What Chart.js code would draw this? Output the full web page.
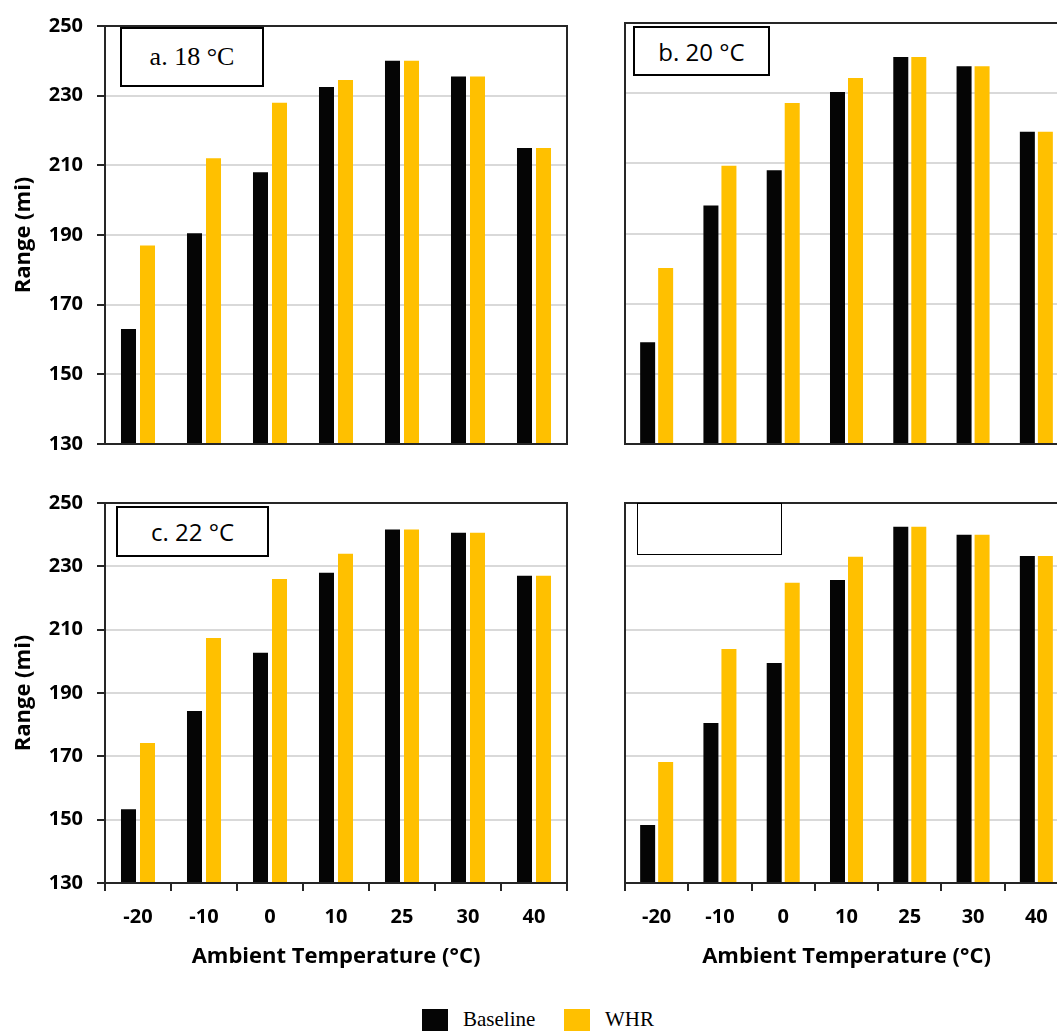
<!DOCTYPE html>
<html>
<head>
<meta charset="utf-8">
<script src="https://cdn.jsdelivr.net/npm/chart.js@4.4.1/dist/chart.umd.min.js"></script>
<style>
  html, body { margin: 0; padding: 0; background: #fff; overflow: hidden; width: 1057px; height: 1031px; }
  .panel { position: absolute; }
  .tag { position: absolute; box-sizing: border-box; border: 2px solid #000; background: #fff;
         display: flex; align-items: center; justify-content: center; color: #000; }
  .legend { position: absolute; font-family: 'Liberation Serif', serif; font-size: 21px; line-height: 21px; color: #000; }
  .swatch { position: absolute; width: 26px; height: 26px; }
</style>
</head>
<body>

<div class="panel" style="left:0;top:0"><canvas id="cA" width="580" height="470"></canvas></div>
<div class="panel" style="left:520px;top:0"><canvas id="cB" width="580" height="470"></canvas></div>
<div class="panel" style="left:0;top:470px"><canvas id="cC" width="580" height="520"></canvas></div>
<div class="panel" style="left:520px;top:470px"><canvas id="cD" width="580" height="520"></canvas></div>

<div class="tag" style="left:120px;top:27px;width:144px;height:60px;font-family:'Liberation Serif',serif;font-size:26px;">a. 18 °C</div>
<div class="tag" style="left:633px;top:26px;width:137px;height:50px;font-family:'Open Sans',sans-serif;font-size:24px;">b. 20 °C</div>
<div class="tag" style="left:116px;top:506px;width:153px;height:51px;font-family:'Open Sans',sans-serif;font-size:24px;">c. 22 °C</div>
<div class="tag" style="left:637px;top:503px;width:145px;height:52px;border-width:1px;"></div>

<div id="legend"></div>

<script>
// categories (ambient temperature, °C)
const categories = ['-20', '-10', '0', '10', '25', '30', '40'];

// range (mi)
const baseline18 = [163, 190.5, 208, 232.5, 240, 235.5, 215];
const whr18      = [187, 212, 228, 234.5, 240, 235.5, 215];

const baseline20 = [159, 198, 208, 230.3, 240.3, 237.7, 219];
const whr20      = [180.2, 209.3, 227.2, 234.3, 240.3, 237.7, 219];

const baseline22 = [153.3, 184.3, 202.7, 228, 241.6, 240.6, 227];
const whr22      = [174.2, 207.4, 226, 234, 241.6, 240.6, 227];

const baselineD = [148.3, 180.5, 199.5, 225.7, 242.5, 240, 233.3];
const whrD      = [168.2, 203.9, 224.8, 233, 242.5, 240, 233.3];

const seriesNames  = ['Baseline', 'WHR'];
const seriesColors = ['#050505', '#FFC000'];

const yMin = 130, yMax = 250, yStep = 20;

Chart.defaults.font.family = "'Open Sans', sans-serif";
Chart.defaults.color = '#000';

const axisColor = '#262626';

// box round the plot area
const frame = {
    id: 'frame',
    afterDatasetsDraw(chart) {
        const { ctx, chartArea: a } = chart;
        ctx.save();
        ctx.strokeStyle = axisColor;
        ctx.lineWidth = 2;
        ctx.strokeRect(a.left, a.top, a.right - a.left, a.bottom - a.top);
        ctx.restore();
    }
};

// left panels are narrower than the right ones (which run off the page)
function dibujarPanel(id, baseline, whr, showY, showX) {
    var padRight = showY ? 13 : 32;
    new Chart(document.getElementById(id), {
        type: 'bar',
        data: {
            labels: categories,
            datasets: [
                { label: seriesNames[0], data: baseline, backgroundColor: seriesColors[0] },
                { label: seriesNames[1], data: whr, backgroundColor: seriesColors[1] }
            ]
        },
        options: {
            responsive: false,
            animation: false,
            categoryPercentage: showY ? 0.576 : 0.569,
            barPercentage: showY ? 0.79 : 0.833,
            layout: { padding: { top: showX ? 33 : 23, right: padRight, left: 0, bottom: 0 } },
            plugins: { legend: { display: false }, tooltip: { enabled: false } },
            scales: {
                x: {
                    grid: { display: showX, drawOnChartArea: false, tickLength: 8, tickColor: axisColor, lineWidth: 2 },
                    border: { color: axisColor, width: 2 },
                    ticks: { display: showX, padding: 14, font: { size: 20, weight: 'bold' } },
                    title: {
                        display: showX,
                        text: 'Ambient Temperature (°C)',
                        font: { size: 22, weight: 'bold' },
                        padding: { top: 0, bottom: 20 }
                    },
                    afterFit: function (s) { s.height = showX ? 107 : 26; }
                },
                y: {
                    min: yMin,
                    max: yMax,
                    ticks: { stepSize: yStep, display: showY, padding: 14, font: { size: 20, weight: 'bold' } },
                    grid: {
                        color: function (c) {
                            if (c.tick && (c.tick.value === yMin || c.tick.value === yMax)) return 'rgba(0,0,0,0)';
                            return '#d9d9d9';
                        },
                        lineWidth: 2,
                        drawTicks: showY,
                        tickLength: 8,
                        tickColor: axisColor
                    },
                    border: { color: axisColor, width: 2 },
                    title: {
                        display: showY,
                        text: 'Range (mi)',
                        font: { size: 22, weight: 'bold' },
                        padding: { top: 11, bottom: 0 }
                    },
                    afterFit: function (s) { s.width = 105; }
                }
            }
        },
        plugins: [frame]
    });
}

dibujarPanel('cA', baseline18, whr18, true, false);
dibujarPanel('cB', baseline20, whr20, false, false);
dibujarPanel('cC', baseline22, whr22, true, true);
dibujarPanel('cD', baselineD, whrD, false, true);

// shared legend
var legend = document.getElementById('legend');
var legendX = [422, 564];
seriesNames.forEach(function (name, i) {
    var sw = document.createElement('div');
    sw.className = 'swatch';
    sw.style.left = legendX[i] + 'px';
    sw.style.top = '1009px';
    sw.style.background = seriesColors[i];
    legend.appendChild(sw);
    var t = document.createElement('div');
    t.className = 'legend';
    t.style.left = (legendX[i] + 41) + 'px';
    t.style.top = '1009px';
    t.textContent = name;
    legend.appendChild(t);
});
</script>
</body>
</html>
